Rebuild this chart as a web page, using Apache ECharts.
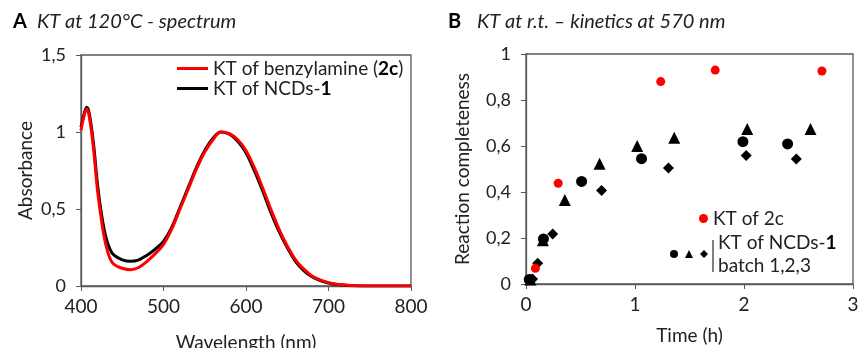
<!DOCTYPE html>
<html><head><meta charset="utf-8">
<script src="https://cdn.jsdelivr.net/npm/echarts@6/dist/echarts.min.js"></script>
<style>html,body{margin:0;padding:0;background:#fff}#c{width:858px;height:348px}</style>
</head><body><div id="c"></div>
<script>
// Panel A: spectrum
const wavelengths = [400,403,407,410,415,420,425,430,435,440,450,460,470,480,490,500,510,520,530,540,550,560,570,580,590,600,610,620,630,640,650,660,670,680,690,700,710,720,730,740,750,800];
const absBenzylamine = [1.01,1.09,1.15,1.10,0.90,0.62,0.42,0.27,0.18,0.14,0.115,0.105,0.12,0.16,0.21,0.27,0.37,0.50,0.63,0.76,0.87,0.95,1.0,0.99,0.95,0.88,0.77,0.64,0.50,0.37,0.26,0.17,0.11,0.065,0.04,0.022,0.012,0.006,0.003,0.001,0,0];
const absNCDs = [1.03,1.10,1.16,1.12,0.93,0.66,0.46,0.32,0.24,0.20,0.17,0.16,0.17,0.20,0.24,0.29,0.38,0.51,0.64,0.77,0.88,0.96,1.0,0.985,0.94,0.865,0.75,0.62,0.48,0.355,0.25,0.16,0.10,0.06,0.035,0.02,0.01,0.005,0.002,0,0,0];
const yTicksA = ['0','0,5','1','1,5'];
// Panel B: kinetics
const kt2c = [[0.086,0.068],[0.295,0.438],[1.236,0.88],[1.736,0.93],[2.715,0.926]];
const batch1 = [[0.03,0.02],[0.16,0.196],[0.51,0.446],[1.06,0.545],[1.99,0.619],[2.40,0.609]];
const batch2 = [[0.04,0.02],[0.155,0.19],[0.356,0.365],[0.675,0.523],[1.02,0.60],[1.36,0.636],[2.03,0.674],[2.61,0.674]];
const batch3 = [[0.06,0.022],[0.107,0.09],[0.245,0.217],[0.693,0.407],[1.307,0.504],[2.02,0.559],[2.48,0.543]];
const yTicksB = ['0','0,2','0,4','0,6','0,8','1'];

const FONT = 'Lato';
const TXT = '#222';
const AX = '#595959';
const FS = 19;
const chart = echarts.init(document.getElementById('c'));
const zip = (xs, ys) => xs.map((x, i) => [x, ys[i]]);

function xAxisCfg(idx, min, max, interval, name, gap) {
  return {
    gridIndex: idx, type: 'value', min, max, interval, name, nameLocation: 'middle', nameGap: gap,
    nameTextStyle: {fontFamily: FONT, fontSize: FS, color: TXT},
    axisLine: {show: true, lineStyle: {color: AX, width: 1.3}},
    axisTick: {show: true, inside: false, length: 5, lineStyle: {color: AX}},
    axisLabel: {fontFamily: FONT, fontSize: 19, color: TXT, margin: 11},
    splitLine: {show: false}
  };
}
function yAxisCfg(idx, min, max, interval, name, gap, labels) {
  return {
    gridIndex: idx, type: 'value', min, max, interval, name, nameLocation: 'middle', nameGap: gap,
    nameTextStyle: {fontFamily: FONT, fontSize: FS, color: TXT},
    axisLine: {show: true, lineStyle: {color: AX, width: 1.3}},
    axisTick: {show: true, inside: false, length: 5, lineStyle: {color: AX}},
    axisLabel: {fontFamily: FONT, fontSize: 18, color: TXT, margin: 15,
      formatter: v => labels[Math.round((v - min) / interval)]},
    splitLine: {show: false}
  };
}

chart.setOption({
  animation: false,
  title: [
    {text: 'A', left: 13, top: 12, padding: 0, textStyle: {fontFamily: FONT, fontSize: 20, fontWeight: 'bold', color: '#000'}},
    {text: 'KT at 120°C - spectrum', left: 37, top: 12, padding: 0, textStyle: {fontFamily: FONT, fontSize: 20, fontStyle: 'italic', fontWeight: 'normal', color: TXT}},
    {text: 'B', left: 448, top: 12, padding: 0, textStyle: {fontFamily: FONT, fontSize: 20, fontWeight: 'bold', color: '#000'}},
    {text: 'KT at r.t. – kinetics at 570 nm', left: 477, top: 12, padding: 0, textStyle: {fontFamily: FONT, fontSize: 20, fontStyle: 'italic', fontWeight: 'normal', color: TXT}}
  ],
  grid: [
    {left: 81, top: 55, width: 330, height: 231, show: true, borderColor: AX, borderWidth: 1.3, containLabel: false, outerBoundsMode: 'none'},
    {left: 526, top: 54, width: 327, height: 230, show: true, borderColor: AX, borderWidth: 1.3, containLabel: false, outerBoundsMode: 'none'}
  ],
  xAxis: [
    xAxisCfg(0, 400, 800, 100, 'Wavelength (nm)', 47),
    xAxisCfg(1, 0, 3, 1, 'Time (h)', 42)
  ],
  yAxis: [
    yAxisCfg(0, 0, 1.5, 0.5, 'Absorbance', 46, yTicksA),
    yAxisCfg(1, 0, 1, 0.2, 'Reaction completeness', 54, yTicksB)
  ],
  legend: [
    {
      data: ['KT of benzylamine (2c)', 'KT of NCDs-1'], orient: 'vertical', left: 177, top: 59, padding: 0,
      icon: 'rect', itemWidth: 31, itemHeight: 3, itemGap: 1,
      formatter: n => n === 'KT of NCDs-1' ? '{n|KT of NCDs-}{b|1}' : '{n|KT of benzylamine (}{b|2c}{n|)}',
      textStyle: {rich: {
        n: {fontFamily: FONT, fontSize: FS, color: TXT, lineHeight: 21},
        b: {fontFamily: FONT, fontSize: FS, fontWeight: 'bold', color: '#000', lineHeight: 21}
      }}
    },
    {
      data: ['KT of 2c'], left: 699, top: 209, padding: 0, icon: 'circle', itemWidth: 9, itemHeight: 9,
      textStyle: {fontFamily: FONT, fontSize: FS, color: TXT}
    },
    {
      data: ['batch 1', 'batch 2', 'batch 3'], left: 670, top: 250, padding: 0, itemWidth: 8, itemHeight: 8, itemGap: 7,
      formatter: () => '', textStyle: {fontSize: 8}
    }
  ],
  graphic: [
    {type: 'line', shape: {x1: 713, y1: 240, x2: 713, y2: 272}, style: {stroke: '#000', lineWidth: 1}},
    {type: 'text', left: 718, top: 233, style: {text: '{n|KT of NCDs-}{b|1}', rich: {
      n: {fontFamily: FONT, fontSize: FS, fill: TXT},
      b: {fontFamily: FONT, fontSize: FS, fontWeight: 'bold', fill: '#000'}
    }}},
    {type: 'text', left: 718, top: 256, style: {text: 'batch 1,2,3', fontFamily: FONT, fontSize: FS, fill: TXT}}
  ],
  series: [
    {name: 'KT of NCDs-1', type: 'line', xAxisIndex: 0, yAxisIndex: 0, data: zip(wavelengths, absNCDs),
      smooth: 0.4, symbol: 'none', lineStyle: {color: '#000', width: 3}, itemStyle: {color: '#000'}},
    {name: 'KT of benzylamine (2c)', type: 'line', xAxisIndex: 0, yAxisIndex: 0, data: zip(wavelengths, absBenzylamine),
      smooth: 0.4, symbol: 'none', lineStyle: {color: '#ff0000', width: 3}, itemStyle: {color: '#ff0000'}},
    {name: 'batch 1', type: 'scatter', xAxisIndex: 1, yAxisIndex: 1, data: batch1, symbol: 'circle', symbolSize: 11, itemStyle: {color: '#000', opacity: 1}},
    {name: 'batch 2', type: 'scatter', xAxisIndex: 1, yAxisIndex: 1, data: batch2, symbol: 'triangle', symbolSize: 12, itemStyle: {color: '#000', opacity: 1}},
    {name: 'batch 3', type: 'scatter', xAxisIndex: 1, yAxisIndex: 1, data: batch3, symbol: 'diamond', symbolSize: 11, itemStyle: {color: '#000', opacity: 1}},
    {name: 'KT of 2c', type: 'scatter', xAxisIndex: 1, yAxisIndex: 1, data: kt2c, symbol: 'circle', symbolSize: 9, itemStyle: {color: '#ff0000', opacity: 1}}
  ]
});
</script></body></html>
